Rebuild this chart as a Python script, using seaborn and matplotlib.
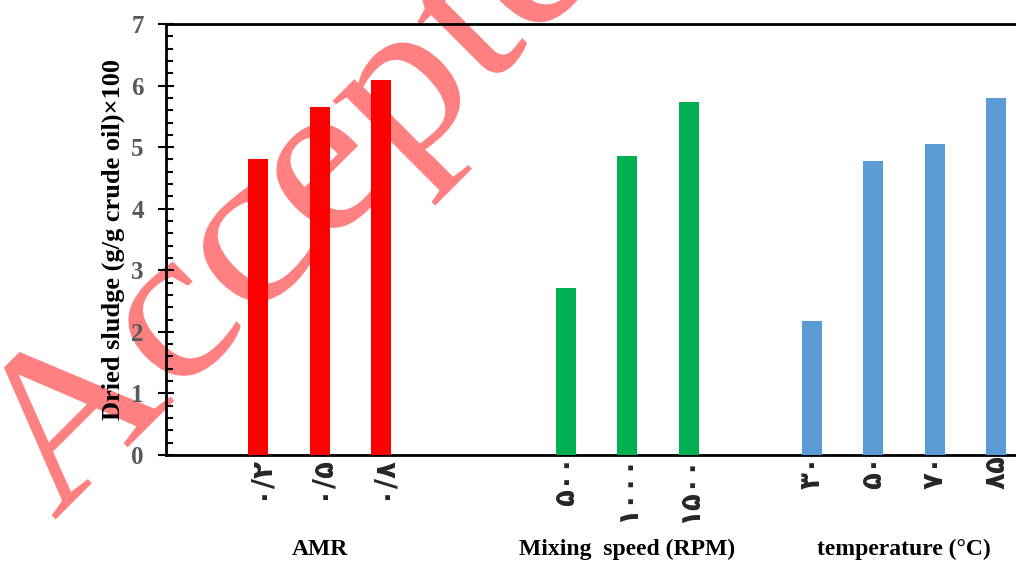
import numpy as np
import pandas as pd
import matplotlib
matplotlib.use("Agg")
import matplotlib.pyplot as plt
import seaborn as sns
from matplotlib.ticker import MultipleLocator
from matplotlib.textpath import TextPath
from matplotlib.patches import PathPatch
from matplotlib.font_manager import FontProperties
from matplotlib.transforms import Affine2D

# Dried sludge yield for each operating parameter
amr_labels = ["۰/۲", "۰/۵", "۰/۸"]
amr_values = [4.81, 5.65, 6.09]

speed_labels = ["۵۰۰", "۱۰۰۰", "۱۵۰۰"]
speed_values = [2.71, 4.85, 5.73]

temp_labels = ["۳۰", "۵۰", "۷۰", "۸۵"]
temp_values = [2.18, 4.77, 5.05, 5.80]

group_names = ["AMR", "Mixing  speed (RPM)", "temperature (°C)"]
group_colors = ["#ff0000", "#00b050", "#5b9bd5"]
group_gaps = [0, 2, 1]  # empty slots left before each group

sns.set_theme(style="white")
plt.rcParams["font.family"] = ["Liberation Serif", "DejaVu Serif"]

# lay the groups out along one categorical axis, leaving empty slots between them
rows = []
pos = 0
group_centers = []
for name, labels, values, gap in zip(group_names,
                                      [amr_labels, speed_labels, temp_labels],
                                      [amr_values, speed_values, temp_values],
                                      group_gaps):
    pos += gap
    start = pos
    for lab, val in zip(labels, values):
        rows.append({"pos": pos, "label": lab, "value": val, "group": name})
        pos += 1
    group_centers.append((start + pos - 1) / 2)
df = pd.DataFrame(rows)

W, H = 1016, 565
fig = plt.figure(figsize=(W / 100, H / 100), dpi=100)
ax = fig.add_axes([166 / W, 1 - 455 / H, 861 / W, 431 / H])
ax.patch.set_visible(False)

sns.barplot(data=df, x="pos", y="value", hue="group", native_scale=True,
            palette=dict(zip(group_names, group_colors)), dodge=False,
            width=0.33, saturation=1, linewidth=0, legend=False, ax=ax, zorder=3)

ax.set_xlim(-1.5, 12.5)
ax.set_ylim(0, 7)
ax.set_xticks(df["pos"])
ax.set_xticklabels(df["label"], rotation=90, fontsize=20, fontweight="bold",
                   family=["DejaVu Sans"])
ax.tick_params(axis="x", length=0, pad=0)

ax.yaxis.set_major_locator(MultipleLocator(1))
ax.yaxis.set_minor_locator(MultipleLocator(0.2))
ax.tick_params(axis="y", which="major", direction="inout", length=12, width=1.5,
               color="black", left=True, pad=10)
ax.tick_params(axis="y", which="minor", direction="in", length=5, width=1.5,
               color="black", left=True)
for t in ax.get_yticklabels():
    t.set_fontsize(18)
    t.set_fontweight("bold")
    t.set_color("#595959")

ax.set_xlabel("")
ax.set_ylabel("Dried sludge (g/g crude oil)×100", fontsize=19, fontweight="bold",
              color="black")
ax.yaxis.set_label_coords(-0.048, 0.5)

for side in ["left", "bottom", "top"]:
    ax.spines[side].set_visible(True)
    ax.spines[side].set_color("black")
    ax.spines[side].set_linewidth(2)
ax.spines["right"].set_visible(False)

# group captions under the tick labels
for name, c in zip(group_names, group_centers):
    ax.text(c, -0.232, name, transform=ax.get_xaxis_transform(), ha="center",
            va="baseline", fontsize=17, fontweight="bold", color="black")

# diagonal watermark drawn behind the chart (slightly wide serif lettering)
wm_path = TextPath((0, 0), "Accepted", size=1,
                   prop=FontProperties(family="Liberation Serif"))
wm_transform = (Affine2D().scale(238, 218).rotate_deg(45)
                .translate(54, H - 521))
fig.add_artist(PathPatch(wm_path, transform=wm_transform, facecolor="#ff8080",
                         edgecolor="none", zorder=-1))

fig.savefig("out.png", dpi=100)
